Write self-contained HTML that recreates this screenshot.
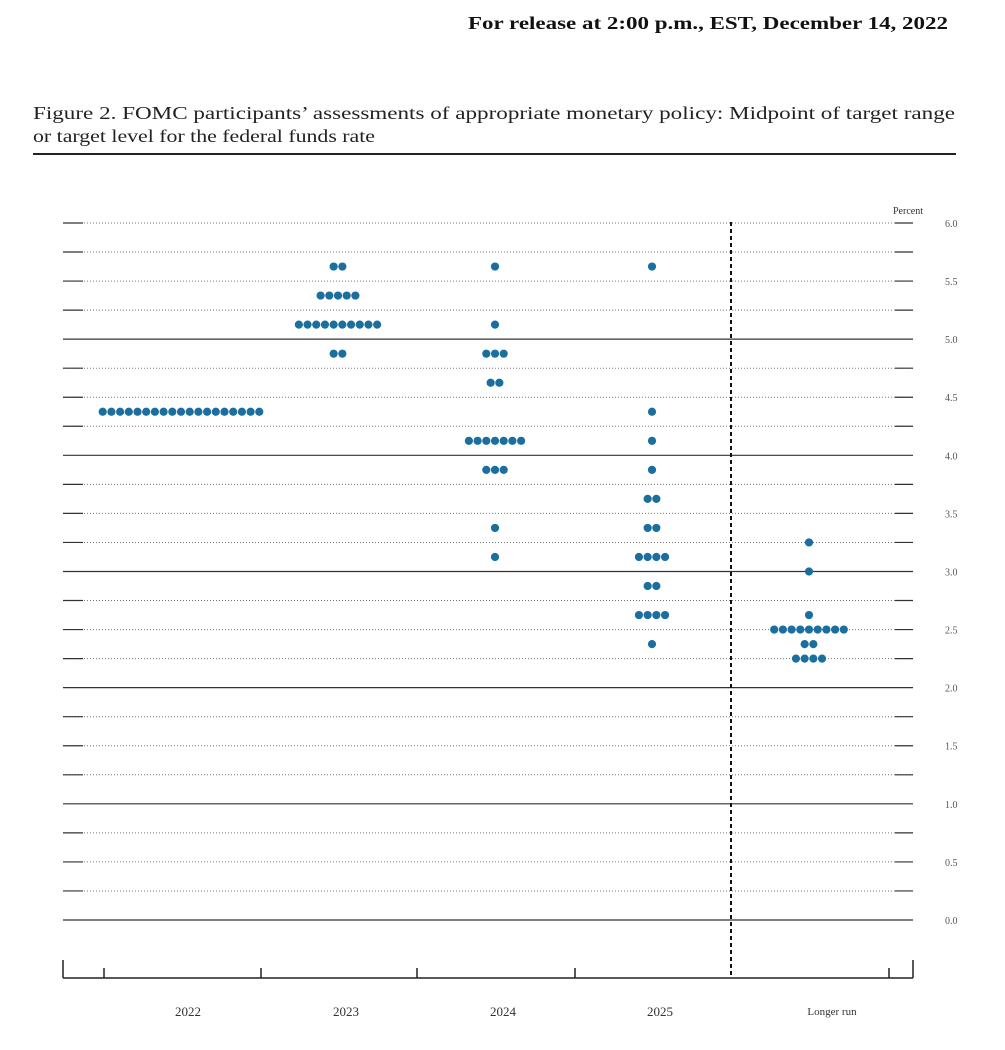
<!DOCTYPE html>
<html><head><meta charset="utf-8"><style>
body{margin:0;background:#fff;}
svg{display:block;}
</style></head><body>
<svg width="1005" height="1050" viewBox="0 0 1005 1050" xmlns="http://www.w3.org/2000/svg" font-family="Liberation Serif, serif">
<text x="468" y="29" textLength="480" lengthAdjust="spacingAndGlyphs" font-size="18" font-weight="bold" fill="#111">For release at 2:00 p.m., EST, December 14, 2022</text>
<text x="33" y="119" textLength="922" lengthAdjust="spacingAndGlyphs" font-size="17.5" fill="#222">Figure 2.  FOMC participants’ assessments of appropriate monetary policy: Midpoint of target range</text>
<text x="33" y="142" textLength="342" lengthAdjust="spacingAndGlyphs" font-size="17.5" fill="#222">or target level for the federal funds rate</text>
<line x1="33" y1="154" x2="956" y2="154" stroke="#222" stroke-width="2"/>
<text x="908" y="214" text-anchor="middle" font-size="10" fill="#333">Percent</text>
<g id="grid"></g>
<line x1="731" y1="222" x2="731" y2="978" stroke="#111" stroke-width="2" stroke-dasharray="4,3"/>
<line x1="63" y1="978" x2="913" y2="978" stroke="#222" stroke-width="1.5"/>
<g stroke="#222" stroke-width="1.5">
<line x1="63" y1="960" x2="63" y2="978"/><line x1="913" y1="960" x2="913" y2="978"/>
<line x1="104" y1="968" x2="104" y2="978"/><line x1="261" y1="968" x2="261" y2="978"/>
<line x1="417" y1="968" x2="417" y2="978"/><line x1="575" y1="968" x2="575" y2="978"/>
<line x1="889" y1="968" x2="889" y2="978"/>
</g>
<g font-size="13" fill="#333" text-anchor="middle">
<text x="188" y="1016">2022</text><text x="346" y="1016">2023</text><text x="503" y="1016">2024</text><text x="660" y="1016">2025</text>
<text x="832" y="1015" font-size="11">Longer run</text>
</g>
<g id="dots" fill="#1b6f9f"></g>
</svg>
<script>
var ns="http://www.w3.org/2000/svg";
var g=document.getElementById('grid');
function Y(v){return 920-v*116.17;}
for(var i=0;i<=24;i++){var v=i*0.25,y=Y(v),whole=(i%4==0&&i!=24);
 var l=document.createElementNS(ns,'line');
 l.setAttribute('x1',63);l.setAttribute('x2',913);l.setAttribute('y1',y);l.setAttribute('y2',y);
 l.setAttribute('stroke',whole?'#333':'#777');l.setAttribute('stroke-width',whole?1.2:1);
 if(!whole)l.setAttribute('stroke-dasharray','1,2');g.appendChild(l);
 if(!whole){[[63,83],[895,913]].forEach(function(s){var t=document.createElementNS(ns,'line');t.setAttribute('x1',s[0]);t.setAttribute('x2',s[1]);t.setAttribute('y1',y);t.setAttribute('y2',y);t.setAttribute('stroke','#333');t.setAttribute('stroke-width',1.2);g.appendChild(t);});}
 if(i%2==0){var tx=document.createElementNS(ns,'text');tx.setAttribute('x',945);tx.setAttribute('y',y+4);tx.setAttribute('font-size','10');tx.setAttribute('fill','#555');tx.textContent=v.toFixed(1);g.appendChild(tx);}
}
var d=document.getElementById('dots');
var cols=[[181,[[4.375,19]]],[338,[[5.625,2],[5.375,5],[5.125,10],[4.875,2]]],
[495,[[5.625,1],[5.125,1],[4.875,3],[4.625,2],[4.125,7],[3.875,3],[3.375,1],[3.125,1]]],
[652,[[5.625,1],[4.375,1],[4.125,1],[3.875,1],[3.625,2],[3.375,2],[3.125,4],[2.875,2],[2.625,4],[2.375,1]]],
[809,[[3.25,1],[3.0,1],[2.625,1],[2.5,9],[2.375,2],[2.25,4]]]];
cols.forEach(function(c){c[1].forEach(function(r){var n=r[1];for(var k=0;k<n;k++){var x=c[0]+(k-(n-1)/2)*8.7;var ci=document.createElementNS(ns,'circle');ci.setAttribute('cx',x);ci.setAttribute('cy',Y(r[0]));ci.setAttribute('r',4.1);d.appendChild(ci);}});});
</script>
</body></html>
